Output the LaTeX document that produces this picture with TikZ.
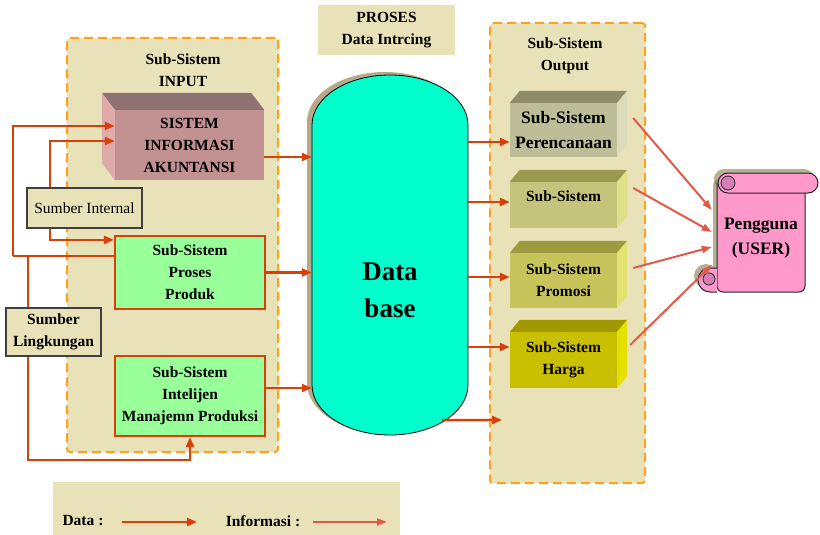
\documentclass[tikz,border=0pt]{standalone}
\usepackage{fontspec}
\setmainfont{Liberation Serif}
\usetikzlibrary{arrows.meta, calc, positioning}

\definecolor{beige}{HTML}{E9E2B8}
\definecolor{dashorange}{HTML}{FFA020}
\definecolor{datared}{HTML}{D8400A}
\definecolor{infored}{HTML}{E05A4A}
\definecolor{boxgreen}{HTML}{99FF99}
\definecolor{siafront}{HTML}{C29292}
\definecolor{siatop}{HTML}{8F7272}
\definecolor{siaside}{HTML}{DEAAAA}
\definecolor{dbcyan}{HTML}{00FFCC}
\definecolor{dbshadow}{HTML}{B8A888}
\definecolor{userpink}{HTML}{FF99CC}
\definecolor{userroll}{HTML}{D580B5}
\definecolor{usershadow}{HTML}{8A7A50}
\definecolor{oafront}{HTML}{BDBD98}
\definecolor{oatop}{HTML}{8D8D6A}
\definecolor{oaside}{HTML}{DCDCBD}
\definecolor{obfront}{HTML}{C4C47C}
\definecolor{obtop}{HTML}{999950}
\definecolor{obside}{HTML}{E0E088}
\definecolor{ocfront}{HTML}{C8C45C}
\definecolor{octop}{HTML}{9E9A40}
\definecolor{ocside}{HTML}{E4E270}
\definecolor{odfront}{HTML}{C8C000}
\definecolor{odtop}{HTML}{A09A00}
\definecolor{odside}{HTML}{E4E000}

\newcommand{\diagfont}{\fontsize{15.5}{22}\selectfont}
\newcommand{\diagbig}{\fontsize{17.5}{25}\selectfont}

\tikzset{
  every node/.style={font=\diagfont\bfseries},
  panel/.style={draw=dashorange, fill=beige, line width=2pt, dash pattern=on 9pt off 5pt, rounded corners=3pt, inner sep=0pt},
  srcbox/.style={draw=black!75, fill=beige, line width=1.2pt, inner sep=0pt, align=center},
  greenbox/.style={draw=datared, fill=boxgreen, line width=2.2pt, inner sep=0pt, align=center, minimum width=150pt},
  outbox/.style={inner sep=0pt, align=center, minimum width=107pt},
  data/.style={datared, line width=2.4pt, -{Triangle[length=10pt,width=8pt]}},
  dataline/.style={datared, line width=2.4pt},
  info/.style={infored, line width=2pt, -{Triangle[length=10pt,width=7pt]}},
  scroll/.style={fill=userpink, draw=black!85, line width=1pt}
}

\begin{document}
\begin{tikzpicture}[x=1pt, y=1pt]
  \useasboundingbox (0,0) rectangle (820,-535);

  % Panels
  \node[panel, minimum width=211pt, minimum height=414pt] (inpanel) at (172.5,-245) {};
  \node[panel, minimum width=155pt, minimum height=460pt] (outpanel) at (567.5,-253) {};
  \node[fill=beige, minimum width=137pt, minimum height=50pt, inner sep=0pt, align=center] (proc) at (386.5,-30) {PROSES\\Data Intrcing};
  \node[align=center] (intitle) at (183,-70) {Sub-Sistem\\INPUT};
  \node[align=center] (outtitle) at (565,-56) {Sub-Sistem\\Output};

  % Sistem informasi akuntansi (3D box)
  \node[fill=siafront, minimum width=149pt, minimum height=70pt, inner sep=0pt, align=center] (sia) at (189.5,-145) {SISTEM\\INFORMASI\\AKUNTANSI};
  \fill[siatop] (sia.north west) -- ++(-13,17) -- ($(sia.north east)+(-13,17)$) -- (sia.north east) -- cycle;
  \fill[siaside] (sia.north west) -- ++(-13,17) -- ($(sia.south west)+(-13,17)$) -- (sia.south west) -- cycle;

  % Input boxes
  \node[greenbox, minimum height=73pt] (produk) at (190,-272.5) {Sub-Sistem\\Proses\\Produk};
  \node[greenbox, minimum height=80pt] (intel) at (190,-396) {Sub-Sistem\\Intelijen\\Manajemn Produksi};
  \node[srcbox, minimum width=115pt, minimum height=40pt, font=\diagfont] (sint) at (84.5,-208) {Sumber Internal};
  \node[srcbox, minimum width=95pt, minimum height=48pt] (sling) at (53.5,-332) {Sumber\\Lingkungan};

  % Database cylinder
  \fill[dbshadow] (307,-122) arc[start angle=180, end angle=0, x radius=78, y radius=50] -- (463,-383) arc[start angle=0, end angle=-180, x radius=78, y radius=50] -- cycle;
  \draw[fill=dbcyan, line width=0.8pt] (312,-125) arc[start angle=180, end angle=0, x radius=78, y radius=50] -- (468,-385) arc[start angle=0, end angle=-180, x radius=78, y radius=50] -- cycle;
  \node[minimum width=156pt, minimum height=360pt, inner sep=0pt] (db) at (390,-255) {};
  \node[align=center, font=\fontsize{27}{37}\selectfont\bfseries] (dbtext) at (390,-290) {Data\\base};

  % Output boxes
  \node[outbox, fill=oafront, minimum height=54pt, font=\diagbig\bfseries] (o1) at (563.5,-130) {Sub-Sistem\\Perencanaan};
  \node[outbox, fill=obfront, minimum height=46pt] (o2) at (563.5,-205) {};
  \node[below=5pt of o2.north] (o2t) {Sub-Sistem};
  \node[outbox, fill=ocfront, minimum height=55pt] (o3) at (563.5,-280.5) {Sub-Sistem\\Promosi};
  \node[outbox, fill=odfront, minimum height=56pt] (o4) at (563.5,-360) {Sub-Sistem\\Harga};
  \foreach \b/\t/\s in {o1/oatop/oaside, o2/obtop/obside, o3/octop/ocside, o4/odtop/odside} {
    \fill[\t] (\b.north west) -- ++(10,12) -- ($(\b.north east)+(10,12)$) -- (\b.north east) -- cycle;
    \fill[\s] (\b.north east) -- ++(10,12) -- ($(\b.south east)+(10,12)$) -- (\b.south east) -- cycle;
  }

  % Pengguna scroll
  \begin{scope}[shift={(-4,4)}]
    \fill[usershadow, opacity=.6, rounded corners=6pt] (717,-183) rectangle (805,-292);
    \fill[usershadow, opacity=.6, rounded corners=10pt] (718,-173) rectangle (818,-193);
    \fill[usershadow, opacity=.6] (710,-280) circle (12pt);
  \end{scope}
  \filldraw[scroll, rounded corners=6pt] (717,-183) -- (717,-292) -- (805,-292) -- (805,-183);
  \filldraw[scroll] (717,-268) -- (710,-268) arc[start angle=90, end angle=270, radius=12] -- (717,-292);
  \filldraw[fill=userroll, draw=black!85, line width=0.8pt] (709,-279) circle (6pt);
  \filldraw[scroll, rounded corners=10pt] (718,-173) rectangle (818,-193);
  \filldraw[fill=userroll, draw=black!85, line width=0.8pt] (728,-183) circle (7pt);
  \node[minimum width=88pt, minimum height=109pt, inner sep=0pt, align=center, font=\diagbig\bfseries] (user) at (761,-238) {Pengguna\\(USER)};

  % Data flows into the input subsystem
  \coordinate (si1) at ([xshift=-34.5pt]sint.north);
  \coordinate (si2) at ([xshift=-34.5pt]sint.south);
  \coordinate (sl1) at ([xshift=-25.5pt]sling.north);
  \coordinate (sl2) at ([xshift=-25.5pt]sling.south);
  \coordinate (jl) at (13,-256);
  \coordinate (jb) at ([yshift=-23pt]intel.south);
  \draw[data] (si1) |- ([yshift=4pt]sia.west);
  \draw[data] (si2) |- ([yshift=-5pt]produk.north west);
  \draw[dataline] (sl1) |- (jl);
  \draw[dataline] (sl1 |- jl) -- (jl -| produk.west);
  \draw[data] (jl) |- ([yshift=19pt]sia.west);
  \draw[data] (sl2) |- (jb) -- (intel.south);

  % Data flows into the database
  \coordinate (d1) at ([yshift=-12pt]sia.east);
  \coordinate (d3) at ([yshift=8pt]intel.east);
  \draw[data] (d1) -- (d1 -| db.west);
  \draw[data] (produk.east) -- (produk.east -| db.west);
  \draw[data] (d3) -- (d3 -| db.west);

  % Data flows out of the database
  \coordinate (e1) at ([yshift=-12pt]o1.west);
  \coordinate (e2) at ([yshift=3pt]o2.west);
  \coordinate (e3) at ([yshift=3.5pt]o3.west);
  \coordinate (e4) at ([yshift=13pt]o4.west);
  \coordinate (e5) at ($(db.south)+(52,15)$);
  \coordinate (e5end) at (502,-420);
  \foreach \e in {e1,e2,e3,e4}
    \draw[data] (\e -| db.east) -- (\e);
  \draw[data] (e5) -- (e5end);

  % Information to the user
  \draw[info] ($(o1.east)+(16,12)$) -- ([xshift=-5pt, yshift=28pt]user.west);
  \draw[info] ($(o2.east)+(16,17)$) -- ([xshift=-5pt, yshift=6pt]user.west);
  \draw[info] ($(o3.east)+(16,12.5)$) -- ([xshift=-5pt, yshift=-9pt]user.west);
  \draw[info] ($(o4.east)+(13,15)$) -- ([xshift=-5pt, yshift=-27pt]user.west);

  % Legend
  \node[fill=beige, minimum width=347pt, minimum height=54pt, inner sep=0pt] (legend) at (226.5,-509) {};
  \node (ldata) at (83,-521) {Data :};
  \node (linfo) at (263,-521) {Informasi :};
  \coordinate (la1) at (122,-522);
  \coordinate (la2) at (197,-522);
  \coordinate (lb1) at (313,-522);
  \coordinate (lb2) at (387,-522);
  \draw[data] (la1) -- (la2);
  \draw[info] (lb1) -- (lb2);
\end{tikzpicture}
\end{document}
